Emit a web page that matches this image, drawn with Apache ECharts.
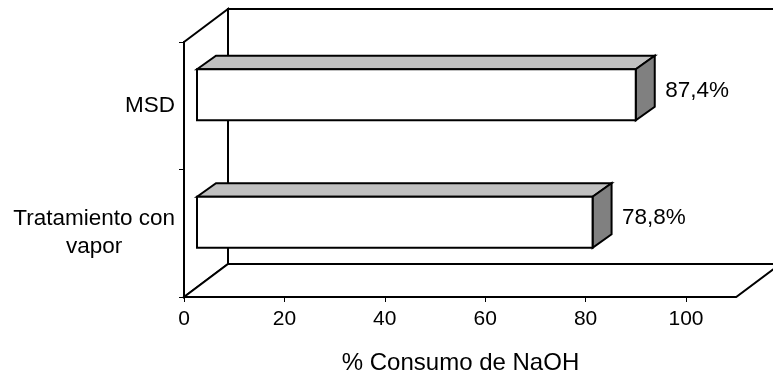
<!DOCTYPE html>
<html>
<head>
<meta charset="utf-8">
<script src="https://cdn.jsdelivr.net/npm/echarts@6/dist/echarts.min.js"></script>
<style>
  html, body { margin: 0; padding: 0; background: #fff; }
  #chart { width: 773px; height: 380px; }
</style>
</head>
<body>
<div id="chart"></div>
<script>
// Categories (bottom to top) and NaOH consumption values (%)
const categories = ['Tratamiento con\nvapor', 'MSD'];
const consumo = [78.8, 87.4];
const xTicks = [0, 20, 40, 60, 80, 100];
const floorMax = 110;   // the floor runs a bit past the last tick

const FONT = '"Liberation Sans", Arial, sans-serif';

// Depth offsets (px) for the pseudo-3D look
const WALL = [44, -33];      // back wall / floor depth
const BAR_FRONT = [13, -11]; // bar front face sits inside the depth
const BAR_BACK = [32, -24.5];

const chart = echarts.init(document.getElementById('chart'));

function fmt(v) {
  return v.toFixed(1).replace('.', ',') + '%';
}

// Walls and floor, built from the grid rectangle and the value scale
function renderWalls(params, api) {
  const cs = params.coordSys;
  const x0 = cs.x, yT = cs.y, yB = cs.y + cs.height;
  const xEnd = api.coord([floorMax, 0])[0];
  const dx = WALL[0], dy = WALL[1];
  const stroke = { fill: '#fff', stroke: '#000', lineWidth: 2 };
  return {
    type: 'group',
    children: [
      { // back wall
        type: 'polygon',
        shape: { points: [[x0 + dx, yT + dy], [xEnd + dx + 40, yT + dy], [xEnd + dx + 40, yB + dy], [x0 + dx, yB + dy]] },
        style: stroke
      },
      { // side wall
        type: 'polygon',
        shape: { points: [[x0, yT], [x0 + dx, yT + dy], [x0 + dx, yB + dy], [x0, yB]] },
        style: stroke
      },
      { // floor
        type: 'polygon',
        shape: { points: [[x0, yB], [x0 + dx, yB + dy], [xEnd + dx, yB + dy], [xEnd, yB]] },
        style: stroke
      }
    ]
  };
}

// One 3D bar: front face, top face, right side face and value label
function renderBar(params, api) {
  const v = api.value(0);
  const c = api.value(1);
  const pStart = api.coord([0, c]);
  const pEnd = api.coord([v, c]);
  const band = api.size([0, 1])[1];
  const h = band * 0.4;
  const yc = pStart[1];
  const f = BAR_FRONT, b = BAR_BACK;
  const xl = pStart[0], xr = pEnd[0];
  const top = yc - h / 2, bot = yc + h / 2;
  const line = { stroke: '#000', lineWidth: 2, lineJoin: 'miter' };
  return {
    type: 'group',
    children: [
      {
        type: 'polygon',
        shape: { points: [[xl + f[0], top + f[1]], [xl + b[0], top + b[1]], [xr + b[0], top + b[1]], [xr + f[0], top + f[1]]] },
        style: Object.assign({ fill: '#c0c0c0' }, line)
      },
      {
        type: 'polygon',
        shape: { points: [[xr + f[0], top + f[1]], [xr + b[0], top + b[1]], [xr + b[0], bot + b[1]], [xr + f[0], bot + f[1]]] },
        style: Object.assign({ fill: '#808080' }, line)
      },
      {
        type: 'rect',
        shape: { x: xl + f[0], y: top + f[1], width: xr - xl, height: h },
        style: Object.assign({ fill: '#fff' }, line)
      },
      {
        type: 'text',
        x: xr + f[0] + 29.5,
        y: yc - 15,
        style: {
          text: fmt(v),
          fill: '#000',
          font: '22.5px ' + FONT,
          textAlign: 'left',
          textVerticalAlign: 'middle'
        }
      }
    ]
  };
}

chart.setOption({
  animation: false,
  backgroundColor: '#fff',
  grid: { left: 184, right: 87, top: 42, bottom: 81 },
  xAxis: {
    type: 'value',
    min: xTicks[0],
    max: xTicks[xTicks.length - 1],
    interval: xTicks[1] - xTicks[0],
    splitLine: { show: false },
    axisLine: { show: false },
    axisTick: { show: true, length: 5, lineStyle: { color: '#000', width: 1 } },
    axisLabel: { color: '#000', fontSize: 21, fontFamily: FONT, margin: 12 },
    name: '% Consumo de NaOH',
    nameLocation: 'middle',
    nameGap: 54,
    nameTextStyle: { color: '#000', fontSize: 24, fontFamily: FONT, padding: [0, 0, 0, 51] }
  },
  yAxis: {
    type: 'category',
    data: categories,
    boundaryGap: true,
    axisLine: { show: true, lineStyle: { color: '#000', width: 2 } },
    axisTick: { show: true, length: 5, lineStyle: { color: '#000', width: 1 } },
    splitLine: { show: false },
    axisLabel: {
      color: '#000',
      fontSize: 22.5,
      fontFamily: FONT,
      margin: 9,
      lineHeight: 28,
      formatter: function (v) {
        return v.split('\n').map(function (s) { return '{c|' + s + '}'; }).join('\n');
      },
      rich: { c: { align: 'center', fontSize: 22.5, fontFamily: FONT, color: '#000', lineHeight: 28 } }
    }
  },
  series: [
    {
      type: 'custom',
      z: 1,
      clip: false,
      renderItem: renderWalls,
      data: [[0, 0]]
    },
    {
      type: 'custom',
      z: 2,
      clip: false,
      renderItem: renderBar,
      data: consumo.map(function (v, i) { return [v, i]; })
    }
  ]
});
</script>
</body>
</html>
